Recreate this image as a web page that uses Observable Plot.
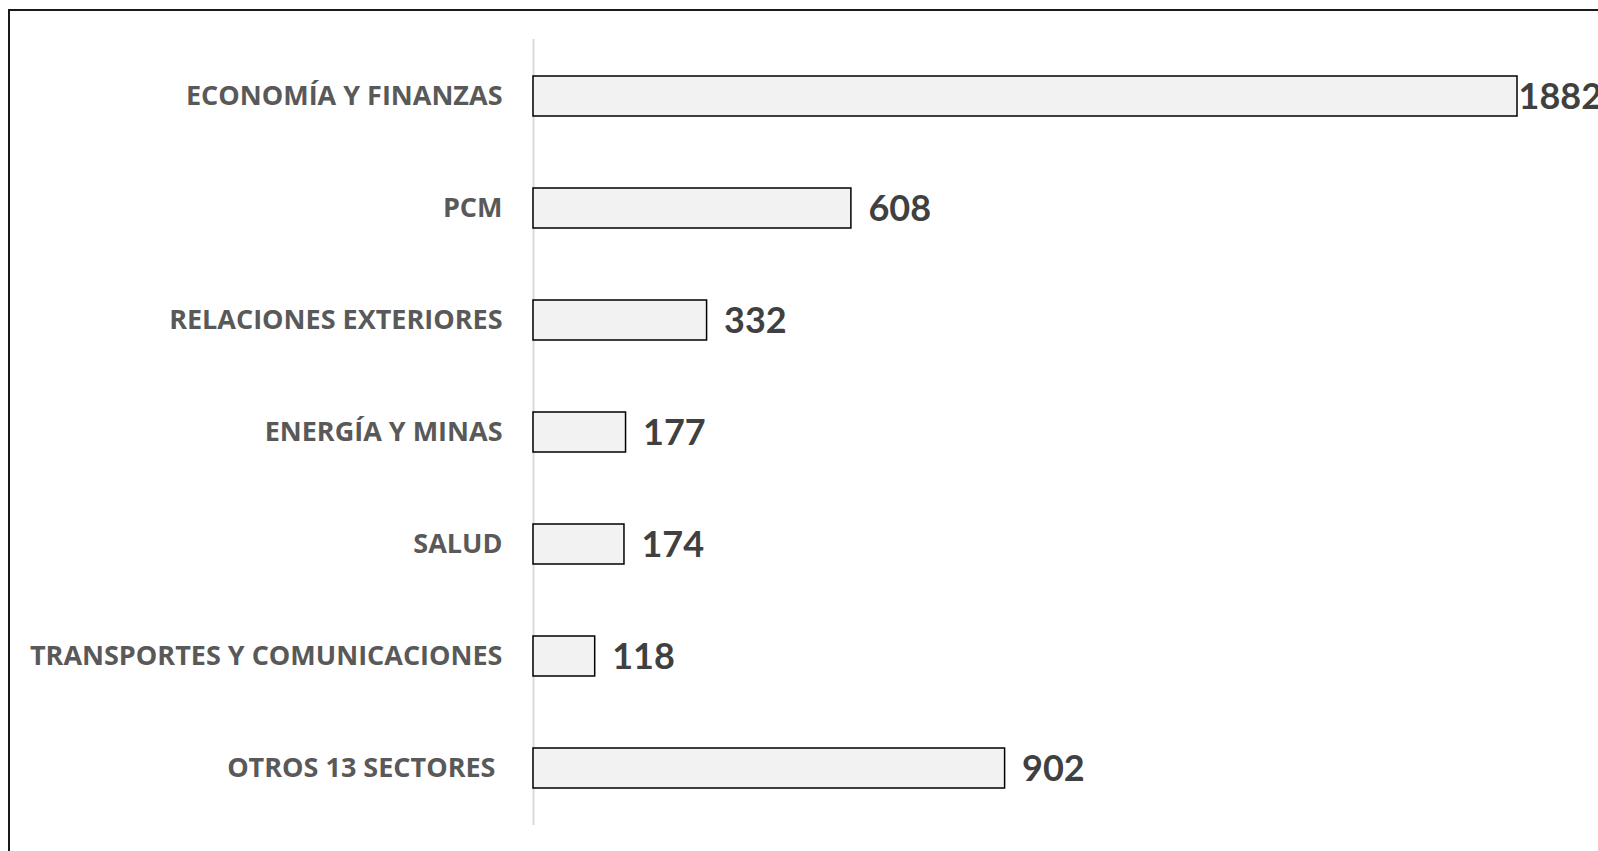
<!DOCTYPE html>
<html>
<head>
<meta charset="utf-8">
<script src="https://cdn.jsdelivr.net/npm/d3@7"></script>
<script src="https://cdn.jsdelivr.net/npm/@observablehq/plot@0.6"></script>
<style>
  html, body { margin: 0; padding: 0; background: #fff; overflow: hidden; }
  #wrap { position: relative; width: 1598px; height: 851px; }
  #frame { position: absolute; left: 8px; top: 9px; width: 1700px; height: 900px;
           border-top: 2px solid #1a1a1a; border-left: 2px solid #1a1a1a; }
  #chart { position: absolute; left: 0; top: 0; }
  #chart svg text { white-space: pre; }
</style>
</head>
<body>
<div id="wrap"><div id="frame"></div><div id="chart"></div></div>
<script>
const categories = [
  "ECONOMÍA Y FINANZAS",
  "PCM",
  "RELACIONES EXTERIORES",
  "ENERGÍA Y MINAS",
  "SALUD",
  "TRANSPORTES Y COMUNICACIONES",
  "OTROS 13 SECTORES "
];
const values = [1882, 608, 332, 177, 174, 118, 902];

const data = categories.map((c, i) => ({category: c, value: values[i]}));
const maxValue = d3.max(values);

const plot = Plot.plot({
  width: 1598,
  height: 851,
  marginLeft: 533,
  marginRight: 81,
  marginTop: 39,
  marginBottom: 26,
  style: {background: "transparent", fontFamily: "'Open Sans', Lato, sans-serif"},
  x: {domain: [0, maxValue], axis: null},
  y: {domain: categories, paddingInner: 0.647, paddingOuter: 0.3235, label: null},
  marks: [
    Plot.axisY({tickSize: 0, tickPadding: 31, fontSize: 27, fontWeight: "bold", fill: "#595959", label: null}),
    Plot.ruleX([0], {stroke: "#d9d9d9", strokeWidth: 2}),
    Plot.barX(data, {x: "value", y: "category", fill: "#f2f2f2", stroke: "#000", strokeWidth: 1.5}),
    Plot.text(data.filter(d => d.value !== maxValue), {x: "value", y: "category", text: d => String(d.value), textAnchor: "start", dx: 17, dy: 1, fontSize: 36, fontWeight: "bold", fontFamily: "Lato, sans-serif", fill: "#404040"}),
    Plot.text(data.filter(d => d.value === maxValue), {x: "value", y: "category", text: d => String(d.value), textAnchor: "start", dx: 1, dy: 1, fontSize: 36, fontWeight: "bold", fontFamily: "Lato, sans-serif", fill: "#404040"})
  ]
});
document.getElementById("chart").appendChild(plot);
</script>
</body>
</html>
